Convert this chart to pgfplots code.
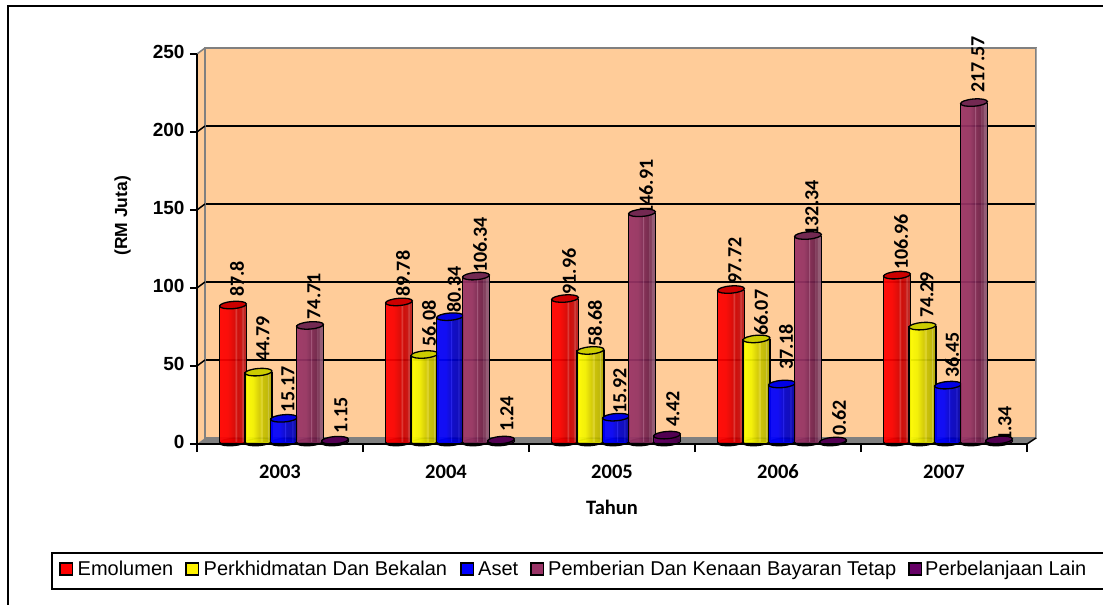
\documentclass[border=0pt]{standalone}
\usepackage{pgfplots}
\usepackage{pgfplotstable}
\pgfplotsset{compat=1.18}
\usepackage{fontspec}
\setmainfont{Liberation Sans}
\newfontfamily\carlito{Carlito}
\definecolor{peach}{HTML}{FFCC99}
\definecolor{topred}{rgb}{.8,0,0}
\definecolor{topyel}{rgb}{.8,.8,0}
\definecolor{topblu}{rgb}{0,0,.9}
\definecolor{toppur}{rgb}{.45,.16,.32}
\definecolor{topdrk}{rgb}{.32,0,.32}
\definecolor{legpur}{rgb}{.6,.2,.4}
\definecolor{legdrk}{rgb}{.4,0,.4}
\pgfdeclarehorizontalshading{cylred}{100bp}{rgb(0bp)=(1,0,0);rgb(25bp)=(1,0,0);rgb(40bp)=(.98,0,0);rgb(52bp)=(.85,0,0);rgb(56bp)=(.86,.2,.2);rgb(58bp)=(.8,0,0);rgb(66bp)=(.78,.05,.05);rgb(68bp)=(.82,.28,.28);rgb(70bp)=(.75,.1,.1);rgb(75bp)=(.72,.12,.12);rgb(100bp)=(.72,.12,.12)}
\pgfdeclarehorizontalshading{cylyel}{100bp}{rgb(0bp)=(1,1,0);rgb(25bp)=(1,1,0);rgb(40bp)=(.95,.95,0);rgb(52bp)=(.82,.8,0);rgb(56bp)=(.88,.85,.2);rgb(58bp)=(.78,.76,0);rgb(66bp)=(.74,.72,0);rgb(68bp)=(.8,.78,.25);rgb(70bp)=(.72,.7,0);rgb(75bp)=(.68,.66,.05);rgb(100bp)=(.68,.66,.05)}
\pgfdeclarehorizontalshading{cylblu}{100bp}{rgb(0bp)=(0,0,1);rgb(25bp)=(0,0,1);rgb(42bp)=(0,0,.98);rgb(50bp)=(0,0,.85);rgb(52bp)=(.1,.1,.95);rgb(54bp)=(0,0,.8);rgb(64bp)=(0,0,.75);rgb(66bp)=(.1,.1,.85);rgb(68bp)=(0,0,.7);rgb(75bp)=(0,0,.62);rgb(100bp)=(0,0,.62)}
\pgfdeclarehorizontalshading{cylpur}{100bp}{rgb(0bp)=(.6,.2,.4);rgb(25bp)=(.6,.2,.4);rgb(42bp)=(.58,.2,.39);rgb(50bp)=(.5,.16,.34);rgb(52bp)=(.62,.32,.48);rgb(54bp)=(.48,.15,.32);rgb(62bp)=(.43,.13,.29);rgb(64bp)=(.55,.3,.44);rgb(66bp)=(.42,.13,.28);rgb(68bp)=(.55,.33,.45);rgb(75bp)=(.55,.33,.45);rgb(100bp)=(.55,.33,.45)}
\pgfdeclarehorizontalshading{cyldrk}{100bp}{rgb(0bp)=(.4,0,.4);rgb(25bp)=(.4,0,.4);rgb(50bp)=(.36,0,.36);rgb(75bp)=(.25,0,.25);rgb(100bp)=(.25,0,.25)}
\pgfdeclareplotmark{cyltop}{\pgfpathellipse{\pgfpointorigin}{\pgfpoint{13.4pt}{1.1pt}}{\pgfpoint{-.35pt}{3.6pt}}\pgfusepathqfillstroke}
\pgfplotstableread{
x v dy
0 87.8 8
1 89.78 5
2 91.96 4
3 97.72 6
4 106.96 5
}\tEmo
\pgfplotstableread{
x v dy
0 44.79 10
1 56.08 8
2 58.68 4
3 66.07 3
4 74.29 8
}\tPer
\pgfplotstableread{
x v dy
0 15.17 6
1 80.34 4
2 15.92 3
3 37.18 14
4 36.45 7
}\tAse
\pgfplotstableread{
x v dy
0 74.71 6
1 106.34 3
2 146.91 -3
3 132.34 -1
4 217.57 10
}\tPem
\pgfplotstableread{
x v dy
0 1.15 7
1 1.24 8
2 4.42 8
3 0.62 5
4 1.34 -2
}\tLai
\newcommand\vlab[2]{\addplot[draw=none,mark=none,forget plot,xshift=#2pt,
  point meta=explicit symbolic,
  visualization depends on={\thisrow{dy}\as\labdy},
  nodes near coords,
  every node near coord/.append style={yshift=\labdy pt,rotate=90,anchor=west,inner sep=0pt,font=\carlito\bfseries\fontsize{20}{22}\selectfont,text=black}]
  table[x=x,y=v,meta=v]{#1};}
\newcommand\cylbar[4]{%
  \addplot[only marks,forget plot,xshift=#2pt,mark=cyltop,mark options={draw=black,fill=#4,line width=1.3pt}] table[x=x,y expr=0]{#1};
  \pgfplotsinvokeforeach{0,1,2,3,4}{%
    \addplot[ybar,bar width=26.5pt,bar shift=0pt,draw=none,shading=#3,fill opacity=.93,forget plot,xshift=#2pt,restrict x to domain=##1:##1] table[x=x,y=v]{#1};
  }
  \addplot[ycomb,black,line width=1.3pt,mark=none,forget plot,xshift=#2pt-13.4pt] table[x=x,y=v]{#1};
  \addplot[ycomb,black,line width=1.3pt,mark=none,forget plot,xshift=#2pt+13.4pt] table[x=x,y=v]{#1};
  \addplot[only marks,forget plot,xshift=#2pt,mark=cyltop,mark options={draw=black,fill=#4,line width=1.3pt}] table[x=x,y=v]{#1};
}
\begin{document}
\begin{tikzpicture}[x=1pt,y=1pt]
\path[use as bounding box] (0,0) rectangle (1103,605);
\draw[black,line width=2pt] (8,0)--(8,598.5)--(1103,598.5);
% side wall
\fill[peach] (197,161)--(205,167)--(205,557)--(197,551)--cycle;
\begin{axis}[at={(205pt,167pt)},anchor=south west,width=831pt,height=390pt,scale only axis,
  xmin=-0.5,xmax=4.5,ymin=0,ymax=250,
  axis background/.style={fill=peach},
  axis line style={draw=gray,line width=2pt},
  xtick=\empty,ytick={50,100,150,200},yticklabels={},major tick length=0pt,
  ymajorgrids,grid style={black,line width=1.5pt}]
\addplot[draw=none,forget plot] coordinates {(0,0)};
\end{axis}
\fill[gray] (197,161)--(205,167)--(1036,167)--(1027,161)--cycle;
\draw[black!50,line width=2pt] (205,167)--(205,557);
\draw[black!35,line width=1.5pt] (1036.5,167)--(1036.5,557);
\foreach \k in {1,2,3,4} \draw[black,line width=1.5pt] (197,161+78*\k)--(205,167+78*\k);
\draw[gray,line width=1.5pt] (197,551)--(205,557);
\draw[black,line width=1.5pt] (1027,161)--(1036,167);
\begin{axis}[at={(201pt,163pt)},anchor=south west,width=830pt,height=390pt,scale only axis,
  xmin=-0.5,xmax=4.5,ymin=0,ymax=250,hide axis,clip=false,clip mode=individual]
\vlab{\tEmo}{-47}
\vlab{\tPer}{-21}
\vlab{\tAse}{4}
\vlab{\tPem}{30}
\vlab{\tLai}{57}
\cylbar{\tEmo}{-51}{cylred}{topred}
\cylbar{\tPer}{-25.5}{cylyel}{topyel}
\cylbar{\tAse}{0}{cylblu}{topblu}
\cylbar{\tPem}{26}{cylpur}{toppur}
\cylbar{\tLai}{51}{cyldrk}{topdrk}
\end{axis}
\begin{axis}[at={(197pt,161pt)},anchor=south west,width=830pt,height=390pt,scale only axis,
  xmin=-0.5,xmax=4.5,ymin=0,ymax=250,clip=false,
  axis x line=bottom,axis y line=left,
  axis line style={-,black,line width=2pt},
  ytick={0,50,...,250},xtick={0,1,2,3,4},xticklabels={2003,2004,2005,2006,2007},
  minor xtick={-0.5,0.5,1.5,2.5,3.5,4.5},
  tick align=outside,
  major x tick style={draw=none},
  major y tick style={black,line width=2pt},
  minor x tick style={black,line width=1.5pt},
  major tick length=7pt,minor tick length=8pt,
  /pgf/number format/assume math mode=true,
  typeset ticklabels with strut,
  yticklabel style={font=\bfseries\fontsize{19}{21}\selectfont,xshift=-2pt},
  xticklabel style={font=\carlito\bfseries\fontsize{20.5}{22}\selectfont,yshift=-9pt},
  xlabel={Tahun},
  xlabel style={at={(axis description cs:0.5,-0.162)},anchor=center,font=\carlito\bfseries\fontsize{20.5}{22}\selectfont},
  ylabel={(RM Juta)},
  ylabel style={at={(axis description cs:-0.0895,0.585)},anchor=center,font=\bfseries\fontsize{17.5}{20}\selectfont},
  legend columns=5,
  legend cell align=left,
  legend style={at={(axis description cs:-0.1663,-0.3205)},anchor=west,draw=none,fill=none,inner sep=0pt,
    font=\fontsize{20}{22}\selectfont,
    /tikz/every even column/.append style={column sep=5pt}},
]
\addlegendimage{legend image code/.code={\draw[black,line width=1.5pt,fill=red](0pt,-6pt) rectangle (12.5pt,6pt);}}
\addlegendentry{\makebox[103pt][l]{\hspace{2.5pt}Emolumen}}
\addlegendimage{legend image code/.code={\draw[black,line width=1.5pt,fill=yellow](0pt,-6pt) rectangle (12.5pt,6pt);}}
\addlegendentry{\makebox[252pt][l]{\hspace{2.5pt}Perkhidmatan Dan Bekalan}}
\addlegendimage{legend image code/.code={\draw[black,line width=1.5pt,fill=blue](0pt,-6pt) rectangle (12.5pt,6pt);}}
\addlegendentry{\makebox[47pt][l]{\hspace{2pt}Aset}}
\addlegendimage{legend image code/.code={\draw[black,line width=1.5pt,fill=legpur](0pt,-6pt) rectangle (12.5pt,6pt);}}
\addlegendentry{\makebox[355pt][l]{\hspace{2pt}Pemberian Dan Kenaan Bayaran Tetap}}
\addlegendimage{legend image code/.code={\draw[black,line width=1.5pt,fill=legdrk](0pt,-6pt) rectangle (12.5pt,6pt);}}
\addlegendentry{\hspace{1pt}Perbelanjaan Lain}
\end{axis}
\draw[black,line width=1.8pt] (1103,52)--(52,52)--(52,16)--(1103,16);
\end{tikzpicture}
\end{document}
